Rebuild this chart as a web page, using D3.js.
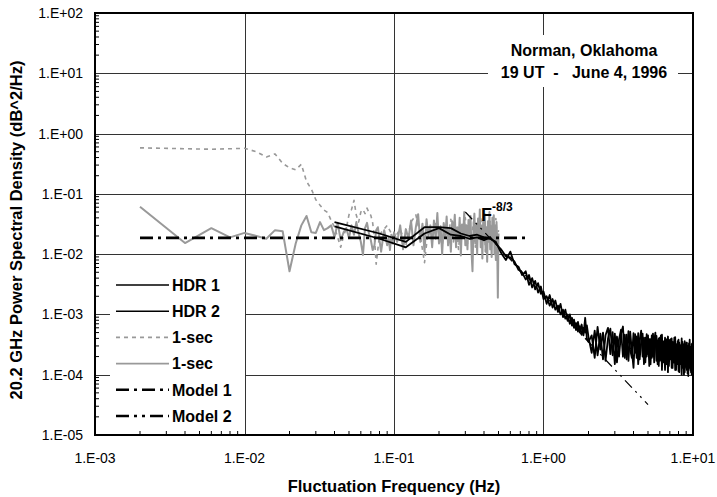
<!DOCTYPE html>
<html>
<head>
<meta charset="utf-8">
<script src="https://cdn.jsdelivr.net/npm/d3@7"></script>
<style>
  body { margin: 0; background: #fff; }
  text { font-family: "Liberation Sans", Arial, Helvetica, sans-serif; }
</style>
</head>
<body>
<div id="chart"></div>
<script>
// ---- data ----
// 1-sec spectrum (solid gray)
const secSolidFreq = [0.002,0.004,0.006,0.008,0.010,0.012,0.014,0.016,0.018,0.020,0.022,0.024,0.026,0.028,0.030,0.032,0.034,0.036,0.038,0.040,0.042,0.044,0.046,0.048,0.050,0.052,0.054,0.056,0.058,0.060,0.062,0.064,0.066,0.068,0.070,0.072,0.074,0.076,0.078,0.080,0.082,0.084,0.086,0.088,0.090,0.092,0.094,0.096,0.098,0.100,
  0.105,0.110,0.115,0.120,0.125,0.130,0.135,0.140,0.145,0.150,0.155,0.160,0.165,0.170,0.175,0.180,0.185,0.190,0.195,0.200,0.205,0.210,0.215,0.220,0.225,0.230,0.235,0.240,0.245,0.250,0.255,0.260,0.265,0.270,0.275,0.280,0.285,0.290,0.295,0.300,0.305,0.310,0.315,0.320,0.325,0.330,0.335,0.340,0.345,0.350,0.355,0.360,0.365,0.370,0.375,0.380,0.385,0.390,0.395,0.400,0.405,0.410,0.415,0.420,0.425,0.430,0.435,0.440,0.445,0.450,0.455,0.460,0.465,0.470,0.475,0.480,0.485,0.490,0.495,0.500];
const secSolidPsd = [0.061,0.0153,0.027,0.019,0.0225,0.020,0.018,0.025,0.024,0.0052,0.015,0.030,0.043,0.023,0.0225,0.034,0.025,0.027,0.030,0.019,0.033,0.017,0.023,0.027,0.0186,0.030,0.021,0.034,0.022,0.016,0.0097,0.027,0.033,0.022,0.017,0.0117,0.014,0.025,0.028,0.017,0.011,0.017,0.025,0.019,0.014,0.019,0.0117,0.021,0.015,0.023,
  0.016,0.030,0.012,0.026,0.018,0.036,0.014,0.028,0.046,0.016,0.032,0.011,0.038,0.020,0.030,0.013,0.036,0.018,0.048,0.015,0.029,0.010,0.033,0.019,0.042,0.014,0.027,0.011,0.035,0.021,0.045,0.013,0.028,0.017,0.040,0.0095,0.031,0.020,0.050,0.014,0.030,0.012,0.037,0.018,0.043,0.011,0.0052,0.026,0.047,0.015,0.032,0.010,0.039,0.019,0.055,0.013,0.030,0.0085,0.036,0.017,0.046,0.011,0.028,0.0075,0.035,0.016,0.050,0.012,0.029,0.0090,0.040,0.018,0.044,0.010,0.027,0.0080,0.034,0.015,0.0019,0.022];

// 1-sec spectrum (dashed gray)
const secDashFreq = [0.002,0.004,0.006,0.008,0.010,0.012,0.014,0.016,0.018,0.020,0.022,0.024,0.026,0.028,0.030,0.032,0.034,0.036,0.038,0.040,0.042,0.044,0.046,0.048,0.050,0.052,0.054,0.056,0.058,0.060,0.062,0.064,0.066,0.068,0.070,0.072,0.074,0.076,0.078,0.080,
  0.09,0.10,0.11,0.12,0.13,0.14,0.15,0.16,0.17,0.18,0.19,0.20,0.21,0.22,0.23,0.24,0.25,0.26,0.27,0.28,0.29,0.30,0.31,0.32,0.33,0.34,0.35,0.36,0.37,0.38,0.39,0.40,0.41,0.42,0.43,0.44,0.45,0.46,0.47,0.48,0.49,0.50];
const secDashPsd = [0.58,0.56,0.55,0.56,0.57,0.50,0.41,0.46,0.32,0.27,0.25,0.31,0.16,0.12,0.080,0.065,0.054,0.049,0.036,0.028,0.019,0.013,0.020,0.027,0.045,0.055,0.078,0.044,0.034,0.050,0.055,0.047,0.058,0.049,0.044,0.033,0.019,0.0068,0.012,0.021,
  0.030,0.018,0.026,0.014,0.034,0.045,0.020,0.0072,0.028,0.017,0.035,0.022,0.014,0.030,0.019,0.038,0.016,0.027,0.012,0.032,0.021,0.040,0.015,0.028,0.018,0.034,0.013,0.026,0.020,0.042,0.016,0.030,0.011,0.027,0.019,0.036,0.014,0.031,0.022,0.039,0.017,0.025];

// HDR spectra (black)
const hdrFreq = [0.04,0.08,0.12,0.16,0.20,0.24,0.28,0.32,0.36,0.40,0.44,0.48,0.52,0.56,0.60,0.64,0.68,0.72,0.76,0.80,0.84,0.88,0.92,0.96,
  1.00,1.05,1.10,1.15,1.20,1.25,1.30,1.35,1.40,1.45,1.50,1.55,1.60,1.65,1.70,1.75,1.80,1.85,1.90,1.95,2.00,
  2.1,2.2,2.3,2.4,2.5,2.6,2.7,2.8,2.9,3.0,3.1,3.2,3.3,3.4,3.5,3.6,3.7,3.8,3.9,4.0,4.1,4.2,4.3,4.4,4.5,4.6,4.7,4.8,4.9,5.0,
  5.1,5.2,5.3,5.4,5.5,5.6,5.7,5.8,5.9,6.0,6.1,6.2,6.3,6.4,6.5,6.6,6.7,6.8,6.9,7.0,7.1,7.2,7.3,7.4,7.5,7.6,7.7,7.8,7.9,8.0,
  8.1,8.2,8.3,8.4,8.5,8.6,8.7,8.8,8.9,9.0,9.1,9.2,9.3,9.4,9.5,9.6,9.7,9.8,9.9,10.0];
const hdr1Psd = [0.034,0.022,0.016,0.028,0.028,0.027,0.022,0.020,0.021,0.019,0.018,0.016,0.0105,0.0080,0.011,0.0068,0.0062,0.0045,0.0052,0.0031,0.0040,0.0026,0.0033,0.0022,
  0.0024,0.0015,0.0021,0.0013,0.0017,0.0011,0.0015,0.00090,0.0012,0.00078,0.0010,0.00065,0.00082,0.00055,0.00075,0.00050,0.00068,0.00045,0.00088,0.00040,0.00035,
  4.5e-4,1.9e-4,6.2e-4,2.6e-4,5.0e-4,1.7e-4,4.0e-4,5.8e-4,2.1e-4,4.8e-4,1.6e-4,3.9e-4,5.6e-4,2.0e-4,4.6e-4,1.8e-4,5.3e-4,2.6e-4,1.9e-4,4.9e-4,
  2.3e-4,4.3e-4,1.5e-4,3.8e-4,5.4e-4,2.0e-4,4.1e-4,1.6e-4,4.7e-4,2.2e-4,3.9e-4,1.5e-4,4.5e-4,2.0e-4,3.6e-4,5.0e-4,1.7e-4,3.7e-4,1.4e-4,4.1e-4,
  2.1e-4,4.6e-4,1.6e-4,3.5e-4,1.2e-4,3.9e-4,1.9e-4,4.3e-4,1.4e-4,3.4e-4,1.8e-4,4.0e-4,1.3e-4,3.3e-4,1.6e-4,4.2e-4,1.2e-4,3.2e-4,1.7e-4,3.8e-4,
  1.1e-4,3.1e-4,1.5e-4,4.0e-4,1.3e-4,3.0e-4,1.0e-4,3.6e-4,1.6e-4,1.3e-4,3.4e-4,1.05e-4,2.9e-4,1.4e-4,3.8e-4,1.2e-4,2.8e-4,1.0e-4,3.3e-4,1.5e-4];
const hdr2Psd = [0.029,0.018,0.013,0.022,0.027,0.021,0.020,0.018,0.019,0.017,0.019,0.015,0.012,0.0092,0.0088,0.0075,0.0055,0.0050,0.0038,0.0045,0.0028,0.0036,0.0023,0.0029,
  0.0018,0.0020,0.0014,0.0018,0.0012,0.0014,0.0010,0.0012,0.00085,0.0010,0.00070,0.00088,0.00060,0.00072,0.00052,0.00064,0.00046,0.00060,0.00050,0.00066,0.00042,
  2.3e-4,5.4e-4,2.1e-4,4.8e-4,1.8e-4,4.5e-4,6.0e-4,2.2e-4,5.1e-4,1.5e-4,4.3e-4,2.0e-4,4.8e-4,6.3e-4,1.9e-4,4.6e-4,1.7e-4,5.2e-4,2.5e-4,1.3e-4,
  4.7e-4,1.9e-4,4.9e-4,1.8e-4,3.6e-4,4.8e-4,1.5e-4,4.1e-4,2.0e-4,4.5e-4,1.4e-4,3.9e-4,1.9e-4,4.8e-4,1.6e-4,3.5e-4,4.4e-4,1.5e-4,4.0e-4,1.7e-4,
  4.5e-4,1.2e-4,3.6e-4,1.9e-4,4.1e-4,1.5e-4,3.4e-4,1.1e-4,3.8e-4,1.8e-4,3.9e-4,1.3e-4,3.5e-4,1.6e-4,4.1e-4,1.2e-4,3.1e-4,1.5e-4,3.6e-4,1.15e-4,
  3.4e-4,1.5e-4,2.9e-4,1.0e-4,3.5e-4,1.4e-4,3.2e-4,1.1e-4,2.8e-4,3.4e-4,1.2e-4,3.0e-4,0.95e-4,3.3e-4,1.3e-4,2.9e-4,1.1e-4,3.2e-4,1.2e-4,2.6e-4];

// models
const model1Freq = [0.002, 0.8];
const model1Psd = [0.0186, 0.0186];
const model2Freq = [0.3, 5];
const model2Psd = [0.05, 3.2e-5];

const xTicks = [1e-3, 1e-2, 1e-1, 1e0, 1e1];
const yTicks = [1e-5, 1e-4, 1e-3, 1e-2, 1e-1, 1e0, 1e1, 1e2];
const xTickLabels = ["1.E-03", "1.E-02", "1.E-01", "1.E+00", "1.E+01"];
const yTickLabels = ["1.E-05", "1.E-04", "1.E-03", "1.E-02", "1.E-01", "1.E+00", "1.E+01", "1.E+02"];

const legendLabels = ["HDR 1", "HDR 2", "1-sec", "1-sec", "Model 1", "Model 2"];

// ---- layout ----
const width = 717, height = 497;
const plotLeft = 95, plotRight = 693, plotTop = 13, plotBottom = 435;

const svg = d3.select("#chart").append("svg")
    .attr("width", width)
    .attr("height", height);

const x = d3.scaleLog().domain([1e-3, 1e1]).range([plotLeft, plotRight]);
const y = d3.scaleLog().domain([1e-5, 1e2]).range([plotBottom, plotTop]);

// grid lines
svg.append("g").selectAll("line")
    .data(yTicks.slice(1, -1))
    .enter().append("line")
    .attr("x1", plotLeft).attr("x2", plotRight)
    .attr("y1", d => Math.round(y(d)) + 0.5).attr("y2", d => Math.round(y(d)) + 0.5)
    .attr("stroke", "#333").attr("stroke-width", 1);
svg.append("g").selectAll("line")
    .data(xTicks.slice(1, -1))
    .enter().append("line")
    .attr("y1", plotTop).attr("y2", plotBottom)
    .attr("x1", d => Math.round(x(d)) + 0.5).attr("x2", d => Math.round(x(d)) + 0.5)
    .attr("stroke", "#333").attr("stroke-width", 1);

// white boxes behind the annotation and the legend
svg.append("rect").attr("x", 488).attr("y", 35).attr("width", 190).attr("height", 52).attr("fill", "#fff");
svg.append("rect").attr("x", 110).attr("y", 268).attr("width", 135).attr("height", 160).attr("fill", "#fff");

// series
svg.append("defs").append("clipPath").attr("id", "clip")
    .append("rect").attr("x", plotLeft).attr("y", plotTop)
    .attr("width", plotRight - plotLeft).attr("height", plotBottom - plotTop);

const line = d3.line().x(d => x(d[0])).y(d => y(d[1]));
const plot = svg.append("g").attr("clip-path", "url(#clip)");

function addSeries(freq, psd, color, widthPx, dash) {
    plot.append("path")
        .datum(d3.zip(freq, psd))
        .attr("d", line)
        .attr("fill", "none")
        .attr("stroke", color)
        .attr("stroke-width", widthPx)
        .attr("stroke-dasharray", dash)
        .attr("stroke-linejoin", "round");
}

addSeries(secDashFreq, secDashPsd, "#999", 1.6, "4,4");
addSeries(secSolidFreq, secSolidPsd, "#999", 2, null);
addSeries(hdrFreq, hdr1Psd, "#000", 1.8, null);
addSeries(hdrFreq, hdr2Psd, "#000", 1.8, null);
addSeries(model1Freq, model1Psd, "#000", 2.6, "13,5,3,5");
addSeries(model2Freq, model2Psd, "#000", 1.2, "10,5,2,5,2,5");

// frame
svg.append("rect")
    .attr("x", plotLeft).attr("y", plotTop)
    .attr("width", plotRight - plotLeft).attr("height", plotBottom - plotTop)
    .attr("fill", "none").attr("stroke", "#000").attr("stroke-width", 2);

// minor ticks (inside)
const minorX = [];
for (let e = -3; e < 1; e++) for (let m = 2; m < 10; m++) minorX.push(m * Math.pow(10, e));
svg.append("g").selectAll("line")
    .data(minorX)
    .enter().append("line")
    .attr("x1", d => x(d)).attr("x2", d => x(d))
    .attr("y1", plotBottom).attr("y2", plotBottom - 4)
    .attr("stroke", "#000").attr("stroke-width", 1);
const minorY = [];
for (let e = -5; e < 2; e++) for (let m = 2; m < 10; m++) minorY.push(m * Math.pow(10, e));
svg.append("g").selectAll("line")
    .data(minorY)
    .enter().append("line")
    .attr("x1", plotLeft).attr("x2", plotLeft + 4)
    .attr("y1", d => y(d)).attr("y2", d => y(d))
    .attr("stroke", "#000").attr("stroke-width", 1);

// tick labels
svg.append("g").selectAll("text")
    .data(yTicks)
    .enter().append("text")
    .attr("x", 83)
    .attr("y", d => y(d))
    .attr("dy", "0.36em")
    .attr("text-anchor", "end")
    .style("font-size", "14px")
    .text((d, i) => yTickLabels[i]);
svg.append("g").selectAll("text")
    .data(xTicks)
    .enter().append("text")
    .attr("x", d => x(d))
    .attr("y", 463)
    .attr("text-anchor", "middle")
    .style("font-size", "14px")
    .text((d, i) => xTickLabels[i]);

// axis titles
svg.append("text")
    .attr("x", 394).attr("y", 492)
    .attr("text-anchor", "middle")
    .style("font-size", "16.5px").style("font-weight", "bold")
    .text("Fluctuation Frequency (Hz)");
svg.append("text")
    .attr("transform", "translate(22,230) rotate(-90)")
    .attr("text-anchor", "middle")
    .style("font-size", "16.5px").style("font-weight", "bold")
    .text("20.2 GHz Power Spectral Density (dB^2/Hz)");

// annotation
svg.append("text")
    .attr("x", 584).attr("y", 56)
    .attr("text-anchor", "middle")
    .style("font-size", "16px").style("font-weight", "bold")
    .text("Norman, Oklahoma");
svg.append("text")
    .attr("x", 584).attr("y", 78)
    .attr("text-anchor", "middle")
    .style("font-size", "16px").style("font-weight", "bold")
    .style("white-space", "pre")
    .text("19 UT  -   June 4, 1996");

// F^-8/3 label
const fLabel = svg.append("text")
    .attr("x", 481).attr("y", 221)
    .style("font-size", "18px").style("font-weight", "bold");
fLabel.append("tspan").text("F");
fLabel.append("tspan").attr("dy", -10).style("font-size", "12px").text("-8/3");

// legend
const legendStyles = [
    { color: "#000", w: 1.6, dash: null },
    { color: "#000", w: 1.6, dash: null },
    { color: "#999", w: 1.6, dash: "4,4" },
    { color: "#999", w: 1.8, dash: null },
    { color: "#000", w: 2.6, dash: "13,5,3,5" },
    { color: "#000", w: 2.6, dash: "13,5,3,5,3,5" }
];
const legend = svg.append("g");
legendLabels.forEach((label, i) => {
    const ly = 285 + i * 26.2;
    legend.append("line")
        .attr("x1", 116).attr("x2", 169)
        .attr("y1", ly).attr("y2", ly)
        .attr("stroke", legendStyles[i].color)
        .attr("stroke-width", legendStyles[i].w)
        .attr("stroke-dasharray", legendStyles[i].dash);
    legend.append("text")
        .attr("x", 172).attr("y", ly)
        .attr("dy", "0.36em")
        .style("font-size", "16px").style("font-weight", "bold")
        .text(label);
});
</script>
</body>
</html>
